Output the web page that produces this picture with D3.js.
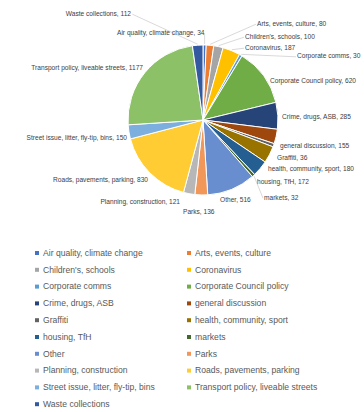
<!DOCTYPE html>
<html>
<head>
<meta charset="utf-8">
<script src="https://cdn.jsdelivr.net/npm/d3@7/dist/d3.min.js"></script>
<style>
  html, body { margin: 0; padding: 0; background: #fff; }
  svg { display: block; }
</style>
</head>
<body>
<svg id="chart" width="364" height="412"></svg>
<script>
// Enquiry topics and their counts
const categories = [
  "Air quality, climate change",
  "Arts, events, culture",
  "Children's, schools",
  "Coronavirus",
  "Corporate comms",
  "Corporate Council policy",
  "Crime, drugs, ASB",
  "general discussion",
  "Graffiti",
  "health, community, sport",
  "housing, TfH",
  "markets",
  "Other",
  "Parks",
  "Planning, construction",
  "Roads, pavements, parking",
  "Street issue, litter, fly-tip, bins",
  "Transport policy, liveable streets",
  "Waste collections"
];
const counts = [34, 80, 100, 187, 30, 620, 285, 155, 36, 180, 172, 32, 516, 136, 121, 830, 150, 1177, 112];

// Office-style slice palette
const sliceColors = [
  "#4472C4", "#ED7D31", "#A5A5A5", "#FFC000", "#5B9BD5", "#70AD47",
  "#264478", "#9E480E", "#636363", "#997300", "#255E91", "#43682B",
  "#698ED0", "#F1975A", "#B7B7B7", "#FFCD33", "#7CAFDD", "#8CC168",
  "#335AA1"
];

// Where each data label sits: [x, y, text-anchor, leader line?]
const labelAt = [
  [117, 35, "start", true],
  [257, 26, "start", true],
  [245, 39, "start", true],
  [245, 50, "start", true],
  [297, 58, "start", true],
  [270, 83, "start", false],
  [282, 119, "start", false],
  [280, 148, "start", false],
  [277, 160, "start", false],
  [268, 171, "start", false],
  [257, 184, "start", false],
  [264, 200, "start", true],
  [220, 202, "start", false],
  [183, 214, "start", false],
  [180, 204, "end", false],
  [148, 182, "end", false],
  [127, 140, "end", false],
  [143, 70, "end", false],
  [131, 16, "end", true]
];

const svg = d3.select("#chart");
const cx = 203, cy = 120, R = 75;
const font = "Liberation Sans, Arial, sans-serif";

const data = categories.map((c, i) => ({ name: c, value: counts[i] }));

const pie = d3.pie().sort(null).value(d => d.value).startAngle(0).endAngle(2 * Math.PI);
const arcs = pie(data);
const arc = d3.arc().innerRadius(0).outerRadius(R);
const color = d3.scaleOrdinal().domain(categories).range(sliceColors);

const g = svg.append("g").attr("transform", `translate(${cx},${cy})`);

g.selectAll("path.slice")
  .data(arcs)
  .join("path")
  .attr("class", "slice")
  .attr("d", arc)
  .attr("fill", d => color(d.data.name))
  .attr("stroke", "#fff")
  .attr("stroke-width", 1);

// Leader lines from the labels to the slice edges
const edgePoint = d => {
  const a = (d.startAngle + d.endAngle) / 2;
  return [cx + Math.sin(a) * (R + 1), cy - Math.cos(a) * (R + 1)];
};

const labels = svg.append("g")
  .selectAll("text")
  .data(arcs)
  .join("text")
  .attr("x", d => labelAt[d.index][0])
  .attr("y", d => labelAt[d.index][1])
  .attr("text-anchor", d => labelAt[d.index][2])
  .attr("font-family", font)
  .attr("font-size", 6.6)
  .attr("fill", "#404040")
  .text(d => `${d.data.name}, ${d.data.value}`);

// Anchor each leader at the label end nearest the slice
const lineStart = (d, node) => {
  const b = node.getBBox();
  const p = edgePoint(d);
  const x = p[0] < b.x ? b.x - 1 : (p[0] > b.x + b.width ? b.x + b.width + 1 : p[0]);
  return [x, b.y + b.height * 0.6];
};

const leaders = svg.insert("g", ":first-child");
labels.each(function (d) {
  if (!labelAt[d.index][3]) return;
  const s = lineStart(d, this);
  const e = edgePoint(d);
  leaders.append("line")
    .attr("x1", s[0]).attr("y1", s[1])
    .attr("x2", e[0]).attr("y2", e[1])
    .attr("stroke", "#c8c8c8")
    .attr("stroke-width", 0.7);
});

// Legend in two columns
const legendCols = [37, 189];
const legendTop = 255, rowGap = 16.8;
const legend = svg.append("g")
  .selectAll("g")
  .data(categories)
  .join("g")
  .attr("transform", (c, i) =>
    `translate(${legendCols[i % 2]},${legendTop + Math.floor(i / 2) * rowGap})`);

legend.append("rect")
  .attr("x", -2).attr("y", -4)
  .attr("width", 4).attr("height", 4)
  .attr("fill", c => color(c));

legend.append("text")
  .attr("x", 6)
  .attr("y", 0.8)
  .attr("font-family", font)
  .attr("font-size", 8.6)
  .attr("fill", "#595959")
  .text(c => c);
</script>
</body>
</html>
